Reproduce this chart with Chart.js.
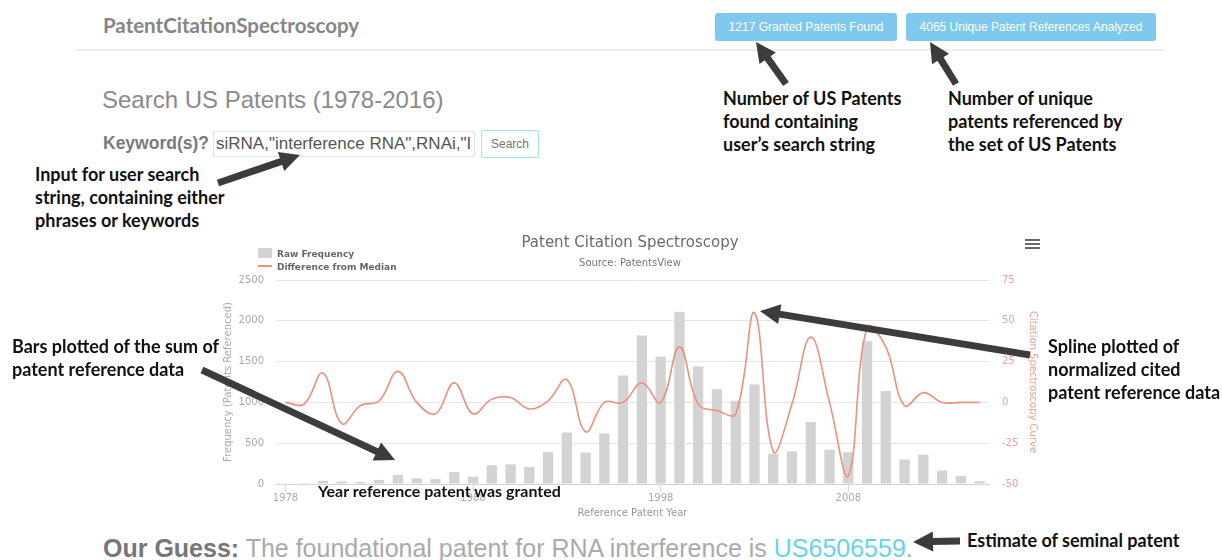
<!DOCTYPE html>
<html>
<head>
<meta charset="utf-8">
<script src="https://cdn.jsdelivr.net/npm/chart.js@4"></script>
<style>
  body { margin:0; width:1222px; height:560px; overflow:hidden; background:#fff; position:relative;
         font-family:"Liberation Sans", Arial, sans-serif; }
  .abs { position:absolute; white-space:nowrap; }
  .note { position:absolute; white-space:nowrap; font-family:Lato, sans-serif; font-weight:700;
          font-size:18px; line-height:23px; color:#111; z-index:5; }
  .badge { position:absolute; top:13px; height:28px; line-height:28px; background:#80c9ee; color:#fff;
           font-size:12px; border-radius:3px; text-align:center; }
  #chartBox { position:absolute; left:215px; top:234px; width:840px; height:288px; }
  .legend { position:absolute; font-family:"DejaVu Sans", sans-serif; font-weight:bold; font-size:9px; color:#666; }
</style>
</head>
<body>

<div class="abs" style="left:103px; top:13px; font-family:Lato; font-weight:700; font-size:20.5px; color:#858585;">PatentCitationSpectroscopy</div>
<div class="abs" style="left:75px; top:49px; width:1090px; height:2px; background:#eeeeee;"></div>
<div class="badge" style="left:715px; width:182px;">1217 Granted Patents Found</div>
<div class="badge" style="left:906px; width:250px;">4065 Unique Patent References Analyzed</div>

<div class="abs" style="left:102px; top:86px; font-size:24px; color:#8a8a8a;">Search US Patents (1978-2016)</div>
<div class="abs" style="left:103px; top:133px; font-size:17.5px; font-weight:bold; color:#7a7a7a;">Keyword(s)?</div>
<div class="abs" style="left:213px; top:131px; width:262px; height:26px; border:1px solid #e2e2e2; box-sizing:border-box; overflow:hidden; font-size:17px; line-height:24px; color:#555; padding-left:2px;">siRNA,"interference RNA",RNAi,"I</div>
<div class="abs" style="left:481px; top:130px; width:58px; height:28px; border:1px solid #9fe3ef; border-radius:2px; box-sizing:border-box; text-align:center; font-size:12px; line-height:26px; color:#777;">Search</div>

<div class="note" style="left:723px; top:87px;">Number of US Patents<br>found containing<br>user’s search string</div>
<div class="note" style="left:948px; top:87px;">Number of unique<br>patents referenced by<br>the set of US Patents</div>
<div class="note" style="left:35px; top:163px;">Input for user search<br>string, containing either<br>phrases or keywords</div>
<div class="note" style="left:12px; top:335px;">Bars plotted of the sum of<br>patent reference data</div>
<div class="note" style="left:1048px; top:335px;">Spline plotted of<br>normalized cited<br>patent reference data</div>
<div class="note" style="left:318px; top:479px; font-size:16px;">Year reference patent was granted</div>
<div class="note" style="left:967px; top:529px;">Estimate of seminal patent</div>

<div id="chartBox"><canvas id="citationChart"></canvas></div>

<div class="legend" style="left:258px; top:248px;"><span style="display:inline-block;width:14px;height:10px;background:#d3d3d3;vertical-align:-1px;margin-right:5px;"></span>Raw Frequency</div>
<div class="legend" style="left:258px; top:262px;"><span style="display:inline-block;width:14px;height:2px;background:#ef8f7e;vertical-align:3px;margin-right:5px;"></span>Difference from Median</div>
<div class="abs" style="left:1025px; top:239px; width:15px;">
  <div style="height:2px;background:#666;margin-bottom:2px;"></div>
  <div style="height:2px;background:#666;margin-bottom:2px;"></div>
  <div style="height:2px;background:#666;"></div>
</div>

<div class="abs" style="left:103px; top:534px; font-size:25px; line-height:29px; color:#aaa;"><b style="color:#777;">Our Guess:</b> The foundational patent for RNA interference is <span style="color:#66d3ea;">US6506559</span>.</div>

<svg id="arrows" class="abs" style="left:0; top:0; z-index:6;" width="1222" height="560"></svg>

<script>
const years = ['1978', '1979', '1980', '1981', '1982', '1983', '1984', '1985', '1986', '1987',
               '1988', '1989', '1990', '1991', '1992', '1993', '1994', '1995', '1996', '1997',
               '1998', '1999', '2000', '2001', '2002', '2003', '2004', '2005', '2006', '2007',
               '2008', '2009', '2010', '2011', '2012', '2013', '2014', '2015'];
const rawFrequency = [5, 10, 40, 30, 25, 50, 110, 70, 60, 145,
                      90, 230, 240, 210, 390, 630, 385, 620, 1330, 1820,
                      1560, 2110, 1440, 1160, 1020, 1220, 370, 400, 760, 420,
                      390, 1750, 1140, 300, 360, 165, 100, 35];
const diffFromMedian = [0, -1, 18, -13, -2, 1, 19, 0, -7, 12,
                        -7, 2, 3, -4, 1, 14, -18, 0, 0, 12,
                        0, 34, -1, -5, -7, 55, -30, -1, 40, 0,
                        -45, 46, 34, -2, 6, 0, 0, 0];
const shownYears = ['1978', '1988', '1998', '2008'];

const barGrey = '#d3d3d3';
const salmon = '#ef8f7e';

const chartConfig = {
    type: 'bar',
    data: {
        labels: years,
        datasets: [
            {
                type: 'line',
                label: 'Difference from Median',
                data: diffFromMedian,
                yAxisID: 'y1',
                borderColor: salmon,
                borderWidth: 1.6,
                pointRadius: 0,
                tension: 0.4,
                order: 0
            },
            {
                label: 'Raw Frequency',
                data: rawFrequency,
                yAxisID: 'y',
                backgroundColor: barGrey,
                categoryPercentage: 1,
                barPercentage: 0.55,
                order: 1
            }
        ]
    },
    options: {
        responsive: true,
        maintainAspectRatio: false,
        animation: false,
        layout: { padding: { right: 10 } },
        plugins: {
            legend: { display: false },
            tooltip: { enabled: false },
            title: {
                display: true,
                text: 'Patent Citation Spectroscopy',
                color: '#6a6a6a',
                font: { family: 'DejaVu Sans', size: 15, weight: 'normal' },
                padding: { top: 0, bottom: 5 }
            },
            subtitle: {
                display: true,
                text: 'Source: PatentsView',
                color: '#777',
                font: { family: 'DejaVu Sans', size: 10 },
                padding: { top: 0, bottom: 11 }
            }
        },
        scales: {
            x: {
                grid: {
                    display: true,
                    drawOnChartArea: false,
                    offset: false,
                    tickLength: 8,
                    tickColor: ctx => shownYears.includes(years[ctx.index]) ? '#ccd6eb' : 'rgba(0,0,0,0)'
                },
                border: { color: '#ccd6eb' },
                ticks: {
                    autoSkip: false,
                    maxRotation: 0,
                    padding: 0,
                    color: '#aaa',
                    font: { family: 'DejaVu Sans', size: 10 },
                    callback: (v, i) => shownYears.includes(years[i]) ? years[i] : ''
                },
                title: {
                    display: true,
                    text: 'Reference Patent Year',
                    color: '#999',
                    font: { family: 'DejaVu Sans', size: 10 },
                    padding: { top: 0, bottom: 3 }
                },
                afterFit: s => { s.height = 38; }
            },
            y: {
                position: 'left',
                min: 0,
                max: 2500,
                ticks: { stepSize: 500, color: '#aaa', padding: 12, font: { family: 'DejaVu Sans', size: 10 },
                         callback: v => String(v) },
                grid: { color: '#e6e6e6', drawTicks: false },
                border: { display: false },
                title: {
                    display: true,
                    text: 'Frequency (Patents Referenced)',
                    color: '#aaa',
                    font: { family: 'DejaVu Sans', size: 10 },
                    padding: { top: 7, bottom: 0 }
                },
                afterFit: s => { s.width = 61; }
            },
            y1: {
                position: 'right',
                min: -50,
                max: 75,
                ticks: { stepSize: 25, color: '#f0a090', padding: 13, font: { family: 'DejaVu Sans', size: 10 },
                         callback: v => String(v) },
                grid: { drawOnChartArea: false, drawTicks: false },
                border: { display: false },
                title: {
                    display: true,
                    text: 'Citation Spectroscopy Curve',
                    color: '#f0a090',
                    font: { family: 'DejaVu Sans', size: 10 },
                    padding: { top: 6, bottom: 0 }
                },
                afterFit: s => { s.width = 56; }
            }
        }
    }
};

let chart = new Chart(document.getElementById('citationChart'), chartConfig);

// annotation arrows: [tailX, tailY, tipX, tipY]
const arrowList = [
    [786, 84, 756, 42],
    [956, 84, 930, 42],
    [218, 183, 300, 155],
    [202, 370, 395, 460],
    [1030, 355, 760, 311],
    [960, 541, 913, 542]
];
const svg = document.getElementById('arrows');
arrowList.forEach(([x1, y1, x2, y2]) => {
    const dx = x2 - x1, dy = y2 - y1;
    const len = Math.hypot(dx, dy);
    const ux = dx / len, uy = dy / len;
    const headLen = 20, headW = 10;
    const bx = x2 - ux * headLen, by = y2 - uy * headLen;
    const line = document.createElementNS('http://www.w3.org/2000/svg', 'line');
    line.setAttribute('x1', x1); line.setAttribute('y1', y1);
    line.setAttribute('x2', bx + ux * 2); line.setAttribute('y2', by + uy * 2);
    line.setAttribute('stroke', '#3c3c3c'); line.setAttribute('stroke-width', 7);
    svg.appendChild(line);
    const head = document.createElementNS('http://www.w3.org/2000/svg', 'polygon');
    head.setAttribute('points', [
        x2 + ',' + y2,
        (bx - uy * headW) + ',' + (by + ux * headW),
        (bx + uy * headW) + ',' + (by - ux * headW)
    ].join(' '));
    head.setAttribute('fill', '#3c3c3c');
    svg.appendChild(head);
});
</script>
</body>
</html>
